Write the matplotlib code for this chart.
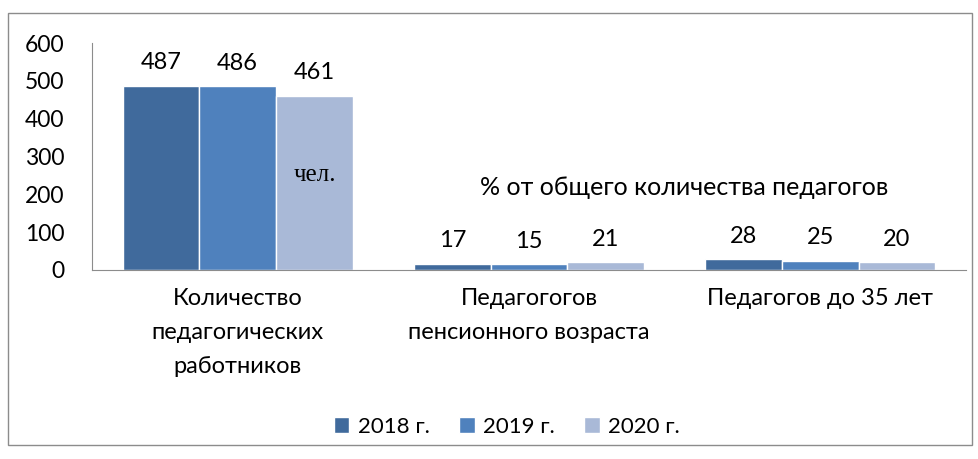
import matplotlib.pyplot as plt
from matplotlib.patches import Rectangle
import numpy as np

plt.rcParams['font.family'] = ['Lato', 'DejaVu Sans']

categories = ["Количество\nпедагогических\nработников",
              "Педагогогов\nпенсионного возраста",
              "Педагогов до 35 лет"]
years = ["2018 г.", "2019 г.", "2020 г."]
values = {
    "2018 г.": [487, 17, 28],
    "2019 г.": [486, 15, 25],
    "2020 г.": [461, 21, 20],
}
colors = ["#406A9C", "#4F81BD", "#A9B9D7"]

fig = plt.figure(figsize=(9.79, 4.59), dpi=100)

# frame round the whole chart
fig.patches.append(Rectangle((8 / 979, 1 - 445 / 459), 964 / 979, 432 / 459,
                             transform=fig.transFigure, fill=False,
                             edgecolor="#8c8c8c", linewidth=1))

ax = fig.add_axes([92 / 979, 1 - 270 / 459, 874 / 979, 227 / 459])

x = np.arange(len(categories))
w = 0.263
for i, y in enumerate(years):
    pos = x + (i - 1) * w
    bars = ax.bar(pos, values[y], w, color=colors[i], edgecolor="white",
                  linewidth=1, label=y, zorder=3)
    for b, v in zip(bars, values[y]):
        ax.annotate(str(v), (b.get_x() + b.get_width() / 2, v),
                    xytext=(0, 9), textcoords="offset points",
                    ha="center", va="bottom", fontsize=17)

ax.set_xlim(-0.5, 2.5)
ax.set_ylim(0, 600)
ax.set_yticks(range(0, 601, 100))
ax.set_xticks(x)
ax.set_xticklabels(categories, fontsize=17, linespacing=1.75)
ax.tick_params(axis="y", labelsize=16.5, length=0, pad=20)
ax.tick_params(axis="x", length=0, pad=13)
for s in ["top", "right"]:
    ax.spines[s].set_visible(False)
ax.spines["left"].set_color("#8c8c8c")
ax.spines["bottom"].set_color("#8c8c8c")
ax.spines["bottom"].set_zorder(4)

# unit note on the first group, heading over the percent groups
ax.text(0.265, 251, "чел.", fontsize=18,
        family="Liberation Serif", ha="center", va="center")
ax.text(1.532, 219, "% от общего количества педагогов",
        fontsize=18, ha="center", va="center")

fig.legend(loc="center", bbox_to_anchor=(507 / 979, 1 - 427 / 459), ncol=3,
           frameon=False, fontsize=16, handlelength=0.7, handleheight=0.7,
           handletextpad=0.4, columnspacing=1.3)

fig.savefig("out.png", dpi=100)
